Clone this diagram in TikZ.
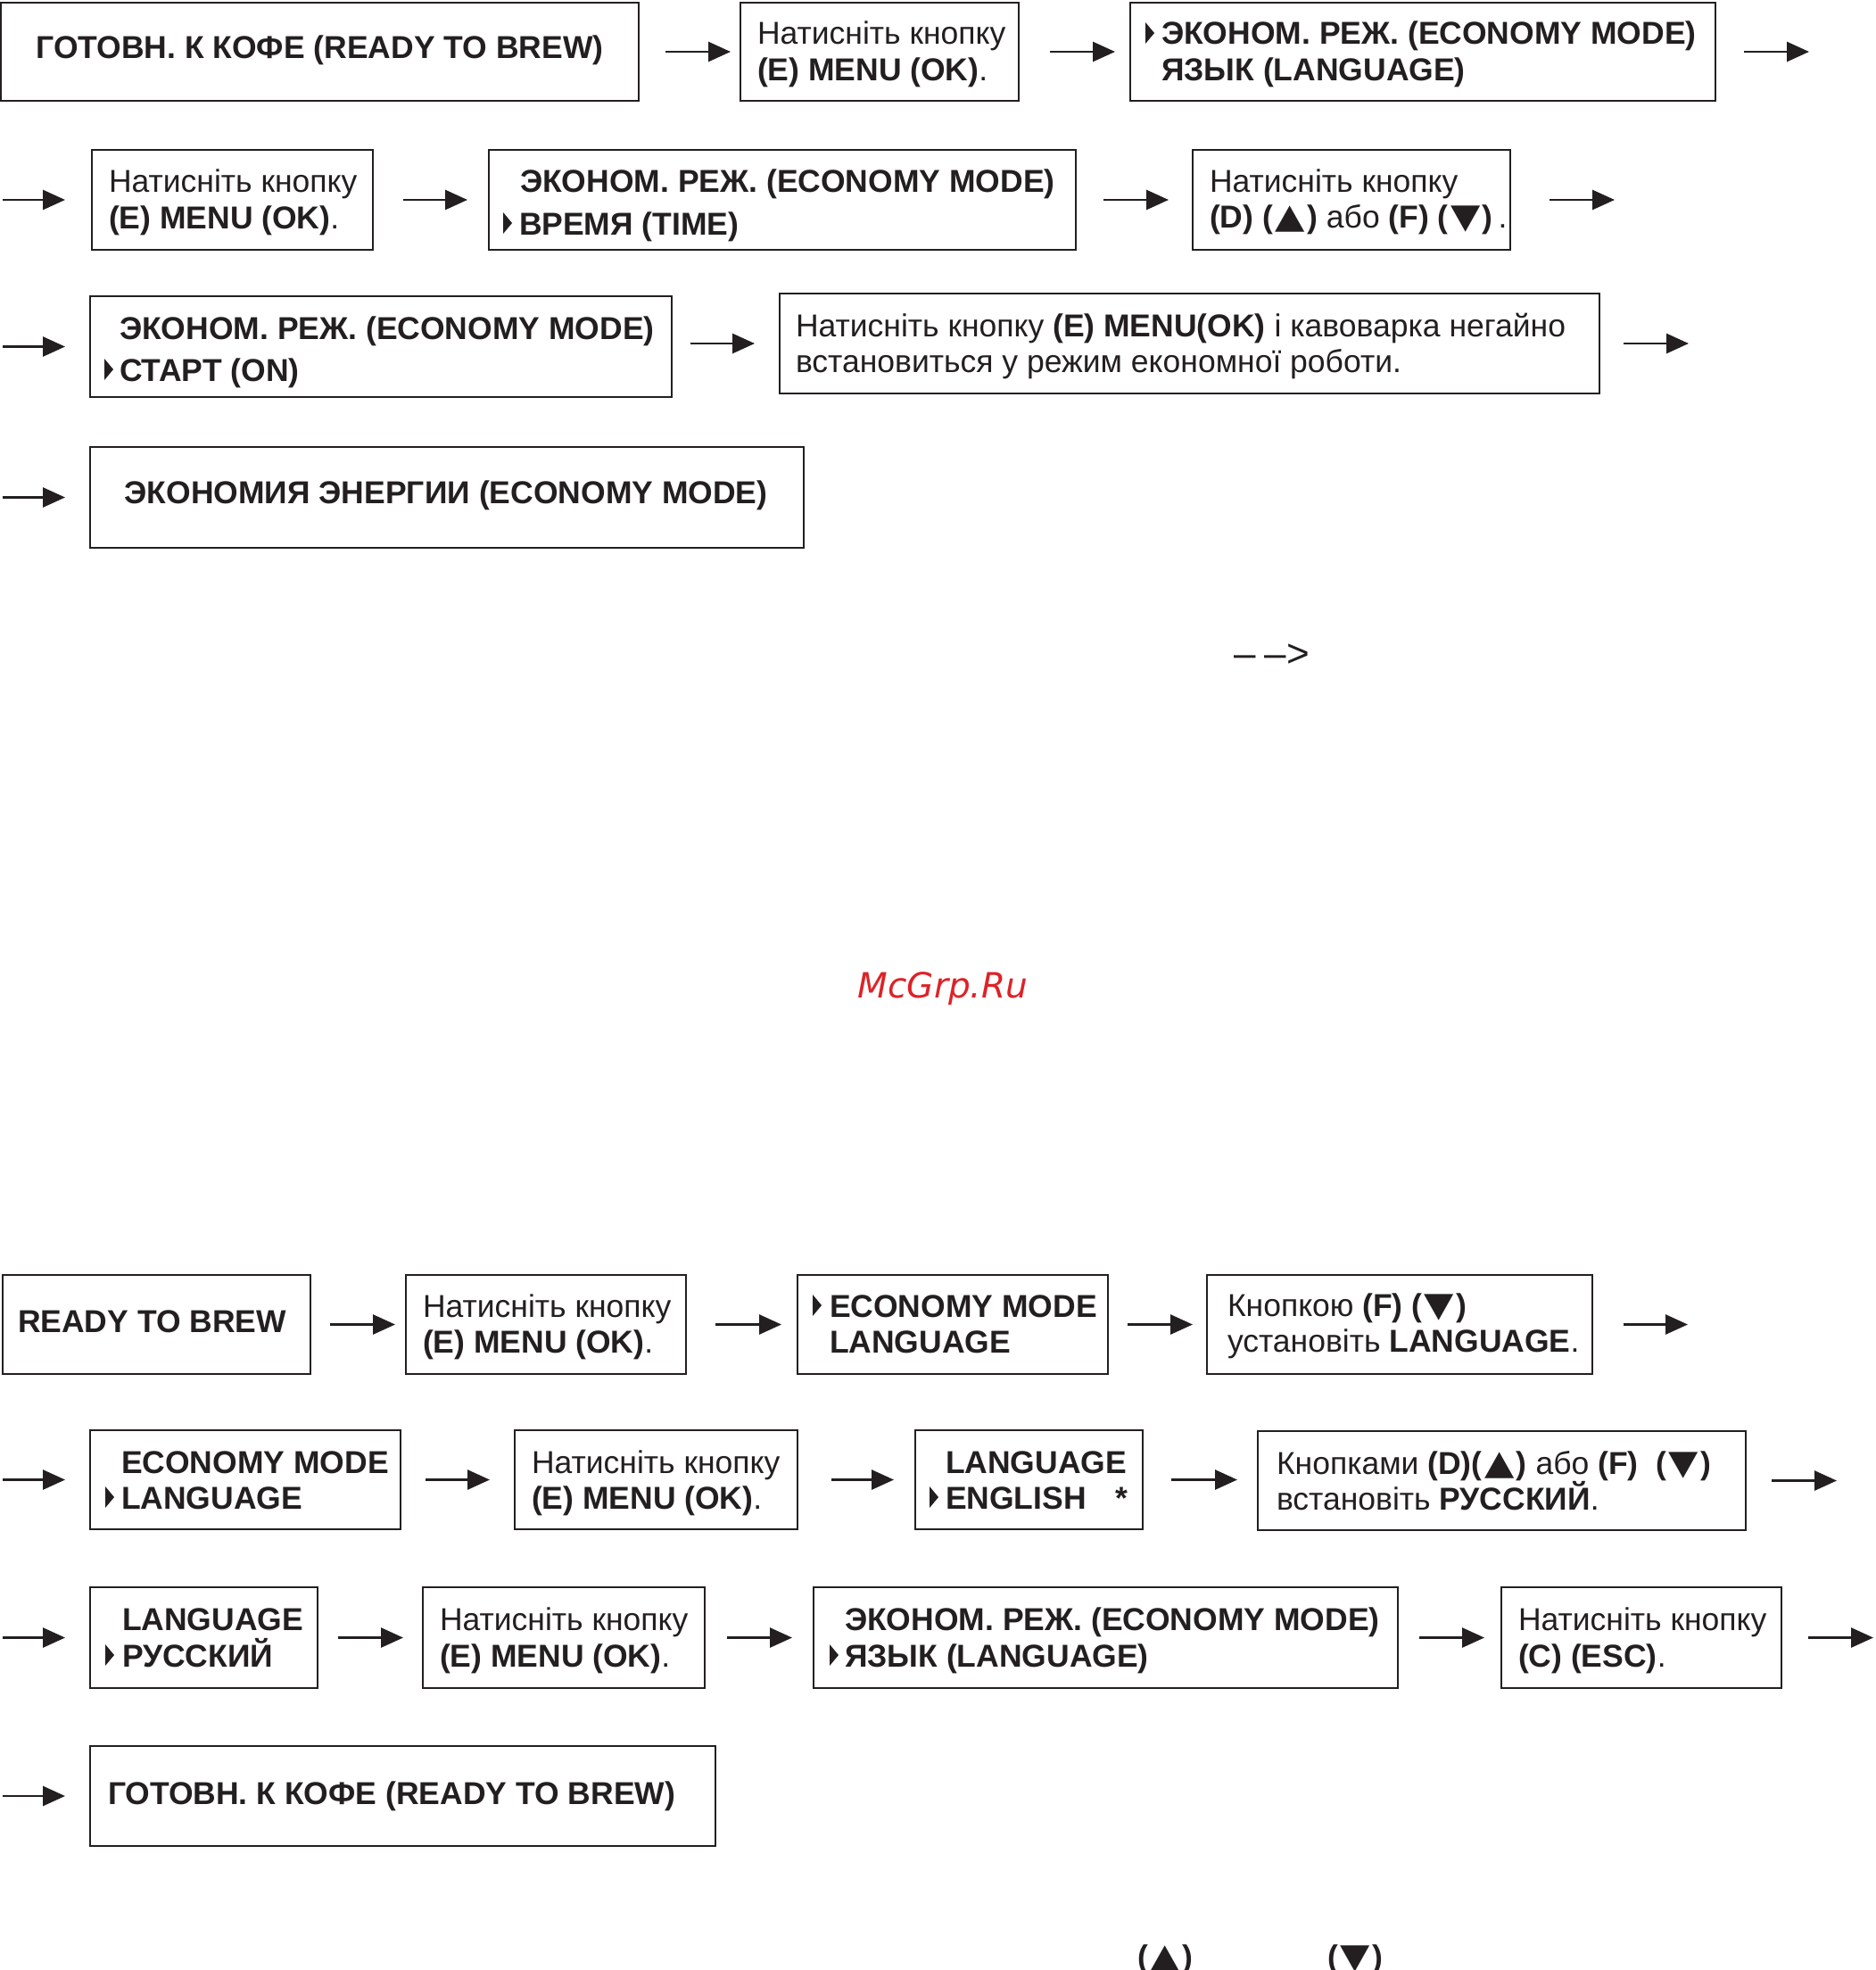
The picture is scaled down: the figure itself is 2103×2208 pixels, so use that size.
\documentclass[tikz,border=0pt]{standalone}
\usepackage{fontspec}
\usepackage{graphicx}
\setmainfont{Liberation Sans}
\newfontfamily\sym{DejaVu Sans}
\newfontfamily\wmf{DejaVu Sans}
\usetikzlibrary{arrows.meta,calc}
\definecolor{ink}{RGB}{35,31,32}
\definecolor{wmred}{RGB}{222,34,40}
\newcommand\fs{\fontsize{35.5pt}{40pt}\selectfont}
\newcommand\tup{\textbf{(}\kern2.5pt\scalebox{1.22}[1.08]{\sym ▲}\kern2.5pt\textbf{)}}
\newcommand\tdn{\textbf{(}\kern2.5pt\scalebox{1.22}[1.08]{\sym ▼}\kern2.5pt\textbf{)}}
\tikzset{
 box/.style={draw=ink, line width=2.6pt, inner sep=0pt, outer sep=0pt, anchor=north west},
 txt/.style={inner sep=0pt, outer sep=0pt, font=\fs, text=ink, anchor=base west},
 arr/.style={draw=ink, line width=2.8pt, -{Triangle[length=25pt,width=22pt]}},
}
\newcommand\mybox[5]{\node[box, minimum width={#3-#2}, minimum height={#5-#4}] (#1) at (#2,#4) {};}
\newcommand\mtri[2]{\fill[ink] (#1,#2-1) -- (#1,#2-25) -- (#1+10,#2-13) -- cycle;}
\begin{document}
\begin{tikzpicture}[x=1pt,y=-1pt]
\path[fill=white] (0,0) rectangle (2103,2208);
\clip (0,0) rectangle (2103,2208);
% ---------- row 1
\mybox{a1}{1}{716}{3}{113}
\mybox{b1}{830}{1142}{3}{113}
\mybox{c1}{1267}{1923}{3}{113}
\node[txt,anchor=base] (a1t) at (358.5,66) {\bfseries ГОТОВН. К КОФЕ (READY TO BREW)};
\node[txt] (b1t1) at (849,50) {Натисніть кнопку};
\node[txt] (b1t2) at (849,90) {\textbf{(E) MENU (OK)}.};
\mtri{1284}{50}
\node[txt] (c1t1) at (1302,50) {\bfseries ЭКОНОМ. РЕЖ. (ECONOMY MODE)};
\node[txt] (c1t2) at (1302,90) {\bfseries ЯЗЫК (LANGUAGE)};
\coordinate (r1e) at (2028,58);
\draw[arr] ([xshift=30pt]a1.east) -- ([xshift=-11pt]b1.west);
\draw[arr] ([xshift=35pt]b1.east) -- ([xshift=-17pt]c1.west);
\draw[arr] ([xshift=32pt]c1.east) -- (r1e);
% ---------- row 2
\mybox{b2}{103}{418}{168}{280}
\mybox{c2}{548}{1206}{168}{280}
\mybox{d2}{1337}{1693}{168}{280}
\node[txt] (b2t1) at (122,215) {Натисніть кнопку};
\node[txt] (b2t2) at (122,256) {\textbf{(E) MENU (OK)}.};
\node[txt] (c2t1) at (583,215) {\bfseries ЭКОНОМ. РЕЖ. (ECONOMY MODE)};
\mtri{564}{263}
\node[txt] (c2t2) at (582,263) {\bfseries ВРЕМЯ (TIME)};
\node[txt] (d2t1) at (1356,215) {Натисніть кнопку};
\node[txt] (d2t2) at (1356,255) {\textbf{(D)} \tup{} або \textbf{(F)} \tdn\,.};
\coordinate (r2s) at (3,224);
\coordinate (r2e) at (1810,224);
\draw[arr] (r2s) -- ([xshift=-30pt]b2.west);
\draw[arr] ([xshift=34pt]b2.east) -- ([xshift=-24pt]c2.west);
\draw[arr] ([xshift=31pt]c2.east) -- ([xshift=-27pt]d2.west);
\draw[arr] ([xshift=44pt]d2.east) -- (r2e);
% ---------- row 3
\mybox{c3}{101}{753}{332}{445}
\mybox{e3}{874}{1793}{329}{441}
\node[txt] (c3t1) at (134,380) {\bfseries ЭКОНОМ. РЕЖ. (ECONOMY MODE)};
\mtri{117}{427}
\node[txt] (c3t2) at (134,427) {\bfseries СТАРТ (ON)};
\node[txt] (e3t1) at (892,377) {Натисніть кнопку \textbf{(E) MENU(OK)} і кавоварка негайно};
\node[txt] (e3t2) at (892,417) {встановиться у режим економної роботи.};
\coordinate (r3s) at (3,388.5);
\coordinate (r3e) at (1893,385);
\draw[arr] (r3s) -- ([xshift=-28pt]c3.west);
\draw[arr] ($(c3.east|-e3.west)+(21,0)$) -- ([xshift=-28pt]e3.west);
\draw[arr] ([xshift=27pt]e3.east) -- (r3e);
% ---------- row 4
\mybox{f4}{101}{901}{501}{614}
\node[txt,anchor=base] (f4t) at (500,564) {\bfseries ЭКОНОМИЯ ЭНЕРГИИ (ECONOMY MODE)};
\coordinate (r4s) at (3,557.5);
\draw[arr] (r4s) -- ([xshift=-28pt]f4.west);
% ---------- stray text
\node[txt, font=\fontsize{44pt}{44pt}\selectfont] (dash) at (1383,747) {–\hspace{10pt}–\hspace{1pt}>};
\node[anchor=base, inner sep=0pt, text=wmred, font=\wmf\itshape\fontsize{39pt}{39pt}\selectfont] (wm) at (1057,1118) {McGrp.Ru};
% ---------- row 5
\mybox{a5}{3}{348}{1429}{1540}
\mybox{b5}{455}{769}{1429}{1540}
\mybox{c5}{894}{1242}{1429}{1540}
\mybox{d5}{1353}{1785}{1429}{1540}
\node[txt] (a5t) at (20,1493) {\bfseries READY TO BREW};
\node[txt] (b5t1) at (474,1476) {Натисніть кнопку};
\node[txt] (b5t2) at (474,1516) {\textbf{(E) MENU (OK)}.};
\mtri{911}{1476}
\node[txt] (c5t1) at (930,1476) {\bfseries ECONOMY MODE};
\node[txt] (c5t2) at (930,1516) {\bfseries LANGUAGE};
\node[txt] (d5t1) at (1376,1475) {Кнопкою \textbf{(F)} \tdn};
\node[txt] (d5t2) at (1376,1515) {установіть \textbf{LANGUAGE}.};
\coordinate (r5e) at (1892,1484.5);
\draw[arr] ([xshift=22pt]a5.east) -- ([xshift=-12pt]b5.west);
\draw[arr] ([xshift=33pt]b5.east) -- ([xshift=-18pt]c5.west);
\draw[arr] ([xshift=22pt]c5.east) -- ([xshift=-16pt]d5.west);
\draw[arr] ([xshift=35pt]d5.east) -- (r5e);
% ---------- row 6
\mybox{a6}{101}{449}{1603}{1714}
\mybox{b6}{577}{894}{1603}{1714}
\mybox{c6}{1026}{1281}{1603}{1714}
\mybox{d6}{1410}{1957}{1604}{1715}
\node[txt] (a6t1) at (136,1651) {\bfseries ECONOMY MODE};
\mtri{118}{1691}
\node[txt] (a6t2) at (136,1691) {\bfseries LANGUAGE};
\node[txt] (b6t1) at (596,1651) {Натисніть кнопку};
\node[txt] (b6t2) at (596,1691) {\textbf{(E) MENU (OK)}.};
\node[txt] (c6t1) at (1060,1651) {\bfseries LANGUAGE};
\mtri{1042}{1691}
\node[txt] (c6t2) at (1060,1691) {\bfseries ENGLISH};
\node[txt] (c6t3) at (1250,1691) {\bfseries *};
\node[txt] (d6t1) at (1431,1652) {Кнопками \textbf{(D)}\tup{} або \textbf{(F)}\ \ \tdn};
\node[txt] (d6t2) at (1431,1692) {встановіть \textbf{РУССКИЙ}.};
\coordinate (r6s) at (3,1658.5);
\coordinate (r6e) at (2059,1659.5);
\draw[arr] (r6s) -- ([xshift=-28pt]a6.west);
\draw[arr] ([xshift=28pt]a6.east) -- ([xshift=-28pt]b6.west);
\draw[arr] ([xshift=38pt]b6.east) -- ([xshift=-24pt]c6.west);
\draw[arr] ([xshift=32pt]c6.east) -- ($(d6.west|-c6.east)+(-23,0)$);
\draw[arr] ([xshift=29pt]d6.east) -- (r6e);
% ---------- row 7
\mybox{a7}{101}{356}{1779}{1892}
\mybox{b7}{474}{790}{1779}{1892}
\mybox{c7}{912}{1567}{1779}{1892}
\mybox{d7}{1683}{1997}{1779}{1892}
\node[txt] (a7t1) at (137,1827) {\bfseries LANGUAGE};
\mtri{118}{1868}
\node[txt] (a7t2) at (137,1868) {\bfseries РУССКИЙ};
\node[txt] (b7t1) at (493,1827) {Натисніть кнопку};
\node[txt] (b7t2) at (493,1868) {\textbf{(E) MENU (OK)}.};
\node[txt] (c7t1) at (947,1827) {\bfseries ЭКОНОМ. РЕЖ. (ECONOMY MODE)};
\mtri{930}{1868}
\node[txt] (c7t2) at (947,1868) {\bfseries ЯЗЫК (LANGUAGE)};
\node[txt] (d7t1) at (1702,1827) {Натисніть кнопку};
\node[txt] (d7t2) at (1702,1868) {\textbf{(C) (ESC)}.};
\coordinate (r7s) at (3,1835.5);
\coordinate (r7e) at (2100,1835.5);
\draw[arr] (r7s) -- ([xshift=-28pt]a7.west);
\draw[arr] ([xshift=23pt]a7.east) -- ([xshift=-22pt]b7.west);
\draw[arr] ([xshift=25pt]b7.east) -- ([xshift=-24pt]c7.west);
\draw[arr] ([xshift=24pt]c7.east) -- ([xshift=-19pt]d7.west);
\draw[arr] ([xshift=30pt]d7.east) -- (r7e);
% ---------- row 8
\mybox{a8}{101}{802}{1957}{2069}
\node[txt] (a8t) at (121,2022) {\bfseries ГОТОВН. К КОФЕ (READY TO BREW)};
\coordinate (r8s) at (3,2013);
\draw[arr] (r8s) -- ([xshift=-28pt]a8.west);
% ---------- cut-off symbols at bottom
\node[txt] (bu) at (1275,2205) {\tup};
\node[txt] (bd) at (1488,2205) {\tdn};
\end{tikzpicture}
\end{document}
